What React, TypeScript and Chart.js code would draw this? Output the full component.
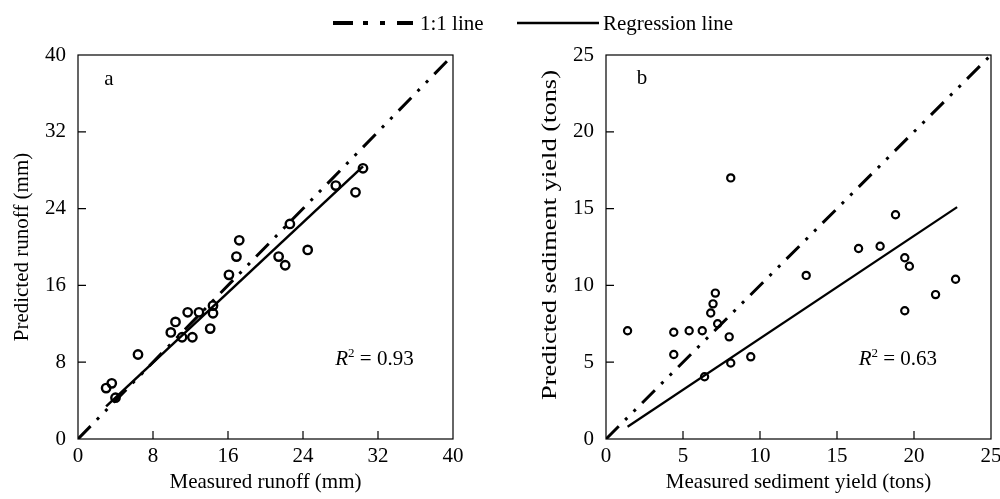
import React, { useEffect, useRef } from 'react';
import { Chart, registerables } from 'chart.js';
Chart.register(...registerables);

const FONT = "'Liberation Serif', 'Times New Roman', serif";

// ---------- Panel a: runoff ----------
const runoffMeasured = [3.0, 3.6, 4.0, 6.4, 9.9, 10.4, 11.1, 11.7, 12.2, 12.9, 14.1, 14.4, 14.4, 16.1, 16.9, 17.2, 21.4, 22.1, 22.6, 24.5, 27.5, 29.6, 30.4];
const runoffPredicted = [5.3, 5.8, 4.3, 8.8, 11.1, 12.2, 10.6, 13.2, 10.6, 13.2, 11.5, 13.9, 13.1, 17.1, 19.0, 20.7, 19.0, 18.1, 22.4, 19.7, 26.4, 25.7, 28.2];
const runoffOneToOneX = [0, 40];
const runoffOneToOneY = [0, 40];
const runoffRegX = [3.0, 30.4];
const runoffRegY = [3.4, 28.4];
const runoffTicks = [0, 8, 16, 24, 32, 40];

// ---------- Panel b: sediment yield ----------
const sedMeasured = [1.4, 4.4, 4.4, 5.4, 6.25, 6.4, 6.8, 6.95, 7.1, 7.25, 8.0, 8.1, 8.1, 9.4, 13.0, 16.4, 17.8, 18.8, 19.4, 19.4, 19.7, 21.4, 22.7];
const sedPredicted = [7.05, 6.95, 5.5, 7.05, 7.05, 4.05, 8.2, 8.8, 9.5, 7.5, 6.65, 4.95, 17.0, 5.35, 10.65, 12.4, 12.55, 14.6, 11.8, 8.35, 11.25, 9.4, 10.4];
const sedOneToOneX = [0, 25];
const sedOneToOneY = [0, 25];
const sedRegX = [1.4, 22.8];
const sedRegY = [0.8, 15.1];
const sedTicks = [0, 5, 10, 15, 20, 25];

const legendLabels = ['1:1 line', 'Regression line'];

const DASH_DOT = [18, 9, 3, 9, 3, 9];

const zip = (xs: number[], ys: number[]) => xs.map((x, i) => ({ x, y: ys[i] }));

const panelDecor = {
  id: 'panelDecor',
  afterDatasetsDraw(chart: any, _args: any, opts: any) {
    const { ctx, chartArea: ca, scales } = chart;
    const xs = scales.x;
    const ys = scales.y;
    ctx.save();
    ctx.strokeStyle = '#000';
    ctx.lineWidth = 1.2;
    ctx.strokeRect(ca.left, ca.top, ca.right - ca.left, ca.bottom - ca.top);
    ctx.beginPath();
    for (const t of xs.ticks) {
      const px = xs.getPixelForValue(t.value);
      if (px <= ca.left + 2 || px >= ca.right - 2) continue;
      ctx.moveTo(px, ca.bottom);
      ctx.lineTo(px, ca.bottom - opts.tickLen);
    }
    for (const t of ys.ticks) {
      const py = ys.getPixelForValue(t.value);
      if (py <= ca.top + 2 || py >= ca.bottom - 2) continue;
      ctx.moveTo(ca.left, py);
      ctx.lineTo(ca.left + opts.tickLen, py);
    }
    ctx.stroke();

    ctx.fillStyle = '#000';
    ctx.textBaseline = 'middle';
    ctx.textAlign = 'left';
    ctx.font = `21px ${FONT}`;
    ctx.fillText(opts.label, xs.getPixelForValue(opts.labelAt[0]), ys.getPixelForValue(opts.labelAt[1]));

    // R^2 text, right aligned
    const rx = xs.getPixelForValue(opts.r2At[0]);
    const ry = ys.getPixelForValue(opts.r2At[1]);
    ctx.font = `italic 21px ${FONT}`;
    const wR = ctx.measureText('R').width;
    ctx.font = `13px ${FONT}`;
    const w2 = ctx.measureText('2').width;
    ctx.font = `21px ${FONT}`;
    const rest = ' = ' + opts.r2;
    const wRest = ctx.measureText(rest).width;
    let sx = rx - (wR + w2 + wRest);
    ctx.font = `italic 21px ${FONT}`;
    ctx.fillText('R', sx, ry);
    sx += wR;
    ctx.font = `13px ${FONT}`;
    ctx.fillText('2', sx, ry - 6);
    sx += w2;
    ctx.font = `21px ${FONT}`;
    ctx.fillText(rest, sx, ry);

    // custom (stretched) y-axis title
    if (opts.yTitle) {
      ctx.save();
      ctx.translate(ys.left + opts.yTitle.x, (ca.top + ca.bottom) / 2 + opts.yTitle.dy);
      ctx.rotate(-Math.PI / 2);
      ctx.scale(opts.yTitle.stretch, 1);
      ctx.textAlign = 'center';
      ctx.textBaseline = 'middle';
      ctx.font = `21px ${FONT}`;
      ctx.fillText(opts.yTitle.text, 0, 0);
      ctx.restore();
    }
    ctx.restore();
  },
};

function makeConfig(p: any): any {
  const tickFont = { family: FONT, size: 21 };
  return {
    type: 'scatter',
    data: {
      datasets: [
        {
          label: legendLabels[0],
          data: zip(p.oneX, p.oneY),
          showLine: true,
          borderColor: '#000',
          borderWidth: 3,
          borderDash: DASH_DOT,
          pointRadius: 0,
          order: 2,
        },
        {
          label: legendLabels[1],
          data: zip(p.regX, p.regY),
          showLine: true,
          borderColor: '#000',
          borderWidth: p.regWidth,
          pointRadius: 0,
          order: 1,
        },
        {
          label: 'obs',
          data: zip(p.xs, p.ys),
          pointStyle: 'circle',
          pointRadius: p.ptR,
          pointBorderWidth: p.ptW,
          borderWidth: p.ptW,
          borderColor: '#000',
          backgroundColor: 'rgba(0,0,0,0)',
          order: 0,
        },
      ],
    },
    options: {
      animation: false,
      responsive: true,
      maintainAspectRatio: false,
      layout: { padding: { top: 55, right: p.padRight, bottom: 0, left: 0 } },
      plugins: {
        legend: { display: false },
        tooltip: { enabled: false },
        panelDecor: {
          tickLen: 8,
          label: p.label,
          labelAt: p.labelAt,
          r2: p.r2,
          r2At: p.r2At,
          yTitle: p.customYTitle ? { text: p.yTitle, ...p.customYTitle } : null,
        },
      },
      scales: {
        x: {
          type: 'linear',
          min: p.ticks[0],
          max: p.ticks[p.ticks.length - 1],
          afterBuildTicks: (s: any) => {
            s.ticks = p.ticks.map((v: number) => ({ value: v }));
          },
          afterFit: (s: any) => {
            s.height = 60;
          },
          grid: { display: false, drawTicks: false },
          border: { display: false },
          ticks: { padding: 5, font: tickFont, color: '#000', maxRotation: 0, autoSkip: false },
          title: { display: true, text: p.xTitle, color: '#000', font: tickFont, padding: { top: 0, bottom: 4 } },
        },
        y: {
          type: 'linear',
          min: p.ticks[0],
          max: p.ticks[p.ticks.length - 1],
          afterBuildTicks: (s: any) => {
            s.ticks = p.ticks.map((v: number) => ({ value: v }));
          },
          afterFit: (s: any) => {
            s.width = p.yWidth;
          },
          grid: { display: false, drawTicks: false },
          border: { display: false },
          ticks: { padding: 12, font: tickFont, color: '#000', autoSkip: false },
          title: {
            display: !p.customYTitle,
            text: p.yTitle,
            color: '#000',
            font: tickFont,
            padding: { top: p.yTitlePad, bottom: 0 },
          },
        },
      },
    },
    plugins: [panelDecor],
  };
}

function Panel({ params, left, width }: { params: any; left: number; width: number }) {
  const ref = useRef<HTMLCanvasElement | null>(null);
  useEffect(() => {
    if (!ref.current) return;
    const chart = new Chart(ref.current, makeConfig(params));
    return () => chart.destroy();
  }, [params]);
  return (
    <div style={{ position: 'absolute', left, top: 0, width, height: 499 }}>
      <canvas ref={ref} />
    </div>
  );
}

const paramsA = {
  xs: runoffMeasured,
  ys: runoffPredicted,
  oneX: runoffOneToOneX,
  oneY: runoffOneToOneY,
  regX: runoffRegX,
  regY: runoffRegY,
  ticks: runoffTicks,
  xTitle: 'Measured runoff (mm)',
  yTitle: 'Predicted runoff (mm)',
  label: 'a',
  labelAt: [2.8, 37.5],
  r2: '0.93',
  r2At: [35.8, 8.25],
  yWidth: 78,
  yTitlePad: 10,
  customYTitle: null,
  padRight: 47,
  regWidth: 2.5,
  ptR: 4.2,
  ptW: 2.4,
};

const paramsB = {
  xs: sedMeasured,
  ys: sedPredicted,
  oneX: sedOneToOneX,
  oneY: sedOneToOneY,
  regX: sedRegX,
  regY: sedRegY,
  ticks: sedTicks,
  xTitle: 'Measured sediment yield (tons)',
  yTitle: 'Predicted sediment yield (tons)',
  label: 'b',
  labelAt: [2.0, 23.5],
  r2: '0.63',
  r2At: [21.5, 5.15],
  yWidth: 106,
  yTitlePad: 36,
  customYTitle: { x: 50, dy: -12, stretch: 1.26 },
  padRight: 29,
  regWidth: 2.2,
  ptR: 3.6,
  ptW: 2.2,
};

export default function App() {
  return (
    <div style={{ position: 'absolute', left: 0, top: 0, width: 1000, height: 499, overflow: 'hidden', background: '#fff' }}>
      <Panel params={paramsA} left={0} width={500} />
      <Panel params={paramsB} left={500} width={520} />
      <svg style={{ position: 'absolute', left: 333, top: 13, width: 80, height: 20 }}>
        <line x1={0} y1={10} x2={80} y2={10} stroke="#000" strokeWidth={4} strokeDasharray="20 10 5 12 5 12" />
      </svg>
      <div style={{ position: 'absolute', left: 420, top: 10, fontFamily: FONT, fontSize: 21, lineHeight: '26px', color: '#000', whiteSpace: 'nowrap' }}>
        {legendLabels[0]}
      </div>
      <svg style={{ position: 'absolute', left: 517, top: 13, width: 82, height: 20 }}>
        <line x1={0} y1={10} x2={82} y2={10} stroke="#000" strokeWidth={2.5} />
      </svg>
      <div style={{ position: 'absolute', left: 603, top: 10, fontFamily: FONT, fontSize: 21, lineHeight: '26px', color: '#000', whiteSpace: 'nowrap' }}>
        {legendLabels[1]}
      </div>
    </div>
  );
}
